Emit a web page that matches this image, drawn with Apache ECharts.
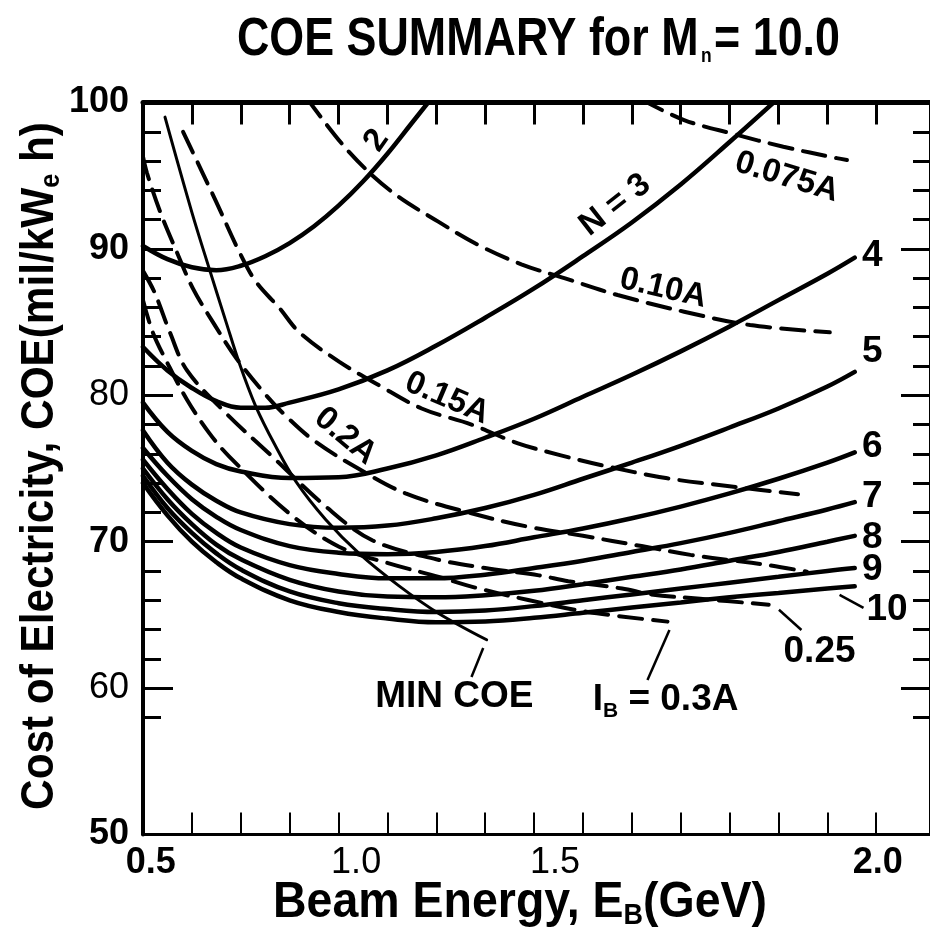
<!DOCTYPE html>
<html>
<head>
<meta charset="utf-8">
<title>COE summary</title>
<script src="https://cdn.jsdelivr.net/npm/echarts@6/dist/echarts.min.js"></script>
<style>
html, body { margin: 0; padding: 0; background: #fff; }
#chart { width: 930px; height: 945px; }
</style>
</head>
<body>
<div id="chart"></div>
<script>
// Cost of electricity (mil/kWe h) against beam energy (GeV), M_n = 10.0

// Solid curves: number of accelerator stages N
const coeN2 = [[0.5,90.2],[0.55,89.3],[0.6,88.75],[0.65,88.55],[0.7,88.85],[0.75,89.5],[0.8,90.4],[0.85,91.55],[0.9,92.95],[0.95,94.6],[1.0,96.5],[1.05,98.6],[1.1,100.7]];
const coeN3 = [[0.5,83.3],[0.55,81.7],[0.6,80.5],[0.65,79.6],[0.7,79.15],[0.75,79.15],[0.8,79.5],[0.9,80.4],[1.0,81.7],[1.1,83.4],[1.2,85.3],[1.3,87.3],[1.4,89.5],[1.5,91.8],[1.6,94.4],[1.7,97.3],[1.8,100.3]];
const coeN4 = [[0.5,79.5],[0.55,77.5],[0.6,76.2],[0.65,75.3],[0.7,74.8],[0.8,74.35],[0.9,74.4],[1.0,75.0],[1.1,75.9],[1.2,77.1],[1.3,78.4],[1.4,79.9],[1.5,81.4],[1.6,83.0],[1.7,84.7],[1.8,86.5],[1.9,88.3],[1.956,89.4]];
const coeN5 = [[0.5,77.6],[0.55,75.4],[0.6,73.9],[0.65,72.8],[0.7,72.0],[0.8,71.2],[0.9,70.95],[1.0,71.1],[1.1,71.6],[1.2,72.3],[1.3,73.2],[1.4,74.3],[1.5,75.4],[1.6,76.55],[1.7,77.8],[1.8,79.1],[1.9,80.6],[1.956,81.6]];
const coeN6 = [[0.5,76.4],[0.55,74.5],[0.6,72.9],[0.65,71.7],[0.7,70.8],[0.8,69.7],[0.9,69.25],[1.0,69.15],[1.1,69.3],[1.2,69.7],[1.3,70.3],[1.4,70.9],[1.5,71.6],[1.6,72.4],[1.7,73.3],[1.8,74.3],[1.9,75.4],[1.956,76.1]];
const coeN7 = [[0.5,75.6],[0.55,73.6],[0.6,71.9],[0.65,70.6],[0.7,69.6],[0.8,68.4],[0.9,67.8],[1.0,67.5],[1.1,67.5],[1.2,67.75],[1.3,68.2],[1.4,68.7],[1.5,69.3],[1.6,69.9],[1.7,70.6],[1.8,71.4],[1.9,72.2],[1.956,72.7]];
const coeN8 = [[0.5,75.0],[0.55,72.9],[0.6,71.2],[0.65,69.8],[0.7,68.8],[0.8,67.4],[0.9,66.6],[1.0,66.25],[1.1,66.2],[1.2,66.35],[1.3,66.65],[1.4,67.1],[1.5,67.6],[1.6,68.1],[1.7,68.7],[1.8,69.3],[1.9,70.0],[1.956,70.4]];
const coeN9 = [[0.5,74.5],[0.55,72.3],[0.6,70.6],[0.65,69.2],[0.7,68.1],[0.8,66.6],[0.9,65.8],[1.0,65.4],[1.1,65.2],[1.2,65.3],[1.3,65.6],[1.4,66.0],[1.5,66.4],[1.6,66.8],[1.7,67.2],[1.8,67.6],[1.9,68.0],[1.956,68.2]];
const coeN10 = [[0.5,74.0],[0.55,71.8],[0.6,70.0],[0.65,68.6],[0.7,67.5],[0.8,66.0],[0.9,65.2],[1.0,64.75],[1.1,64.5],[1.2,64.55],[1.3,64.8],[1.4,65.15],[1.5,65.5],[1.6,65.85],[1.7,66.2],[1.8,66.5],[1.9,66.8],[1.956,66.95]];

// Locus of the minimum COE
const minCoe = [[0.545,99.0],[0.6,92.5],[0.636,88.6],[0.67,85.0],[0.697,82.2],[0.73,79.3],[0.77,76.6],[0.813,74.1],[0.874,71.5],[0.942,69.2],[1.023,67.0],[1.105,65.1],[1.203,63.3]];

// Dashed curves: constant beam current I_B
const ib075 = [[1.52,100.2],[1.607,98.8],[1.708,97.85],[1.81,96.98],[1.919,96.2],[1.94,96.07]];
const ib10 = [[0.835,100.3],[0.921,96.64],[1.009,93.9],[1.104,91.86],[1.186,90.27],[1.274,88.95],[1.362,88.0],[1.471,86.85],[1.607,85.71],[1.742,84.8],[1.905,84.3]];
const ib15 = [[0.582,98.0],[0.65,93.2],[0.697,89.8],[0.731,87.76],[0.779,85.96],[0.82,84.3],[0.901,82.3],[0.982,80.7],[1.07,79.1],[1.172,78.0],[1.267,76.72],[1.355,75.9],[1.436,75.24],[1.573,74.33],[1.708,73.76],[1.84,73.24]];
const ib20 = [[0.5,96.3],[0.508,95.2],[0.535,92.54],[0.569,89.8],[0.602,87.3],[0.643,85.0],[0.691,82.53],[0.752,80.0],[0.792,78.6],[0.85,76.9],[0.935,75.1],[1.037,73.3],[1.172,71.94],[1.288,71.02],[1.4,70.4],[1.52,69.7],[1.62,69.1],[1.71,68.7],[1.78,68.4],[1.858,67.95]];
const ib25 = [[0.5,88.5],[0.524,87.0],[0.555,84.3],[0.59,81.7],[0.67,78.77],[0.765,75.8],[0.874,72.4],[0.969,70.1],[1.1,68.8],[1.2,68.2],[1.31,67.7],[1.37,67.3],[1.48,66.8],[1.54,66.4],[1.64,66.1],[1.78,65.7]];
const ib30 = [[0.5,86.5],[0.52,84.3],[0.55,82.2],[0.59,79.7],[0.636,77.4],[0.677,75.8],[0.799,71.94],[0.901,69.66],[1.003,68.52],[1.105,67.6],[1.172,66.93],[1.288,66.02],[1.41,65.2],[1.573,64.54]];

// Axis ticks and tick labels
const xTickValues = [0.6,0.7,0.8,0.9,1.0,1.1,1.2,1.3,1.4,1.5,1.6,1.7,1.8,1.9,2.0];
const xTickLabels = ['0.5','1.0','1.5','2.0'];
const xTickLabelAt = [0.516,0.936,1.343,2.003];
const yTickLabels = ['50','60','70','80','90','100'];
const yMajorTicks = [60,70,80,90];
const yMinorTicks = [58,62,64,66,68,72,74,76,78,82,84,86,88,92,94,96,98];

// Curve annotations and their leader lines
const curveNotes = [
  { text: '2', at: [0.978,97.4], rotate: 55, style: 'lab' },
  { text: 'N = 3', at: [1.466,93.0], rotate: 38, style: 'lab' },
  { text: '0.075A', at: [1.817,94.9], rotate: -17, style: 'lab' },
  { text: '0.10A', at: [1.564,87.3], rotate: -13, style: 'lab' },
  { text: '0.15A', at: [1.122,79.8], rotate: -23, style: 'lab' },
  { text: '0.2A', at: [0.914,77.2], rotate: -40, style: 'lab' },
  { text: '4', at: [1.992,89.5], rotate: 0, style: 'num' },
  { text: '5', at: [1.992,82.96], rotate: 0, style: 'num' },
  { text: '6', at: [1.992,76.5], rotate: 0, style: 'num' },
  { text: '7', at: [1.992,73.1], rotate: 0, style: 'num' },
  { text: '8', at: [1.992,70.25], rotate: 0, style: 'num' },
  { text: '9', at: [1.992,68.07], rotate: 0, style: 'num' },
  { text: '10', at: [2.022,65.35], rotate: 0, style: 'num' },
  { text: '0.25', at: [1.884,62.47], rotate: 0, style: 'num' },
  { text: 'MIN COE', at: [1.137,59.4], rotate: 0, style: 'num' },
  { text: '{t|I}{s|B}{t| = 0.3A}', at: [1.569,59.2], rotate: 0, style: 'num' }
];
const leaderLines = [
  [[1.925,66.37],[1.974,65.48]],
  [[1.801,65.35],[1.847,63.97]],
  [[1.196,62.74],[1.172,60.76]],
  [[1.577,63.97],[1.532,60.55]]
];

const SANS = "'Liberation Sans', Arial, sans-serif";
const INK = '#000';

const solidCurves = [coeN2, coeN3, coeN4, coeN5, coeN6, coeN7, coeN8, coeN9, coeN10];
const dashedCurves = [ib075, ib10, ib15, ib20, ib25, ib30];

const series = [];
solidCurves.forEach(function (pts, i) {
  series.push({
    name: 'N = ' + (i + 2),
    type: 'line',
    data: pts,
    smooth: 0.4,
    symbol: 'none',
    silent: true,
    lineStyle: { color: INK, width: 4.5, cap: 'round' }
  });
});
series.push({
  name: 'MIN COE',
  type: 'line',
  data: minCoe,
  smooth: 0.35,
  symbol: 'none',
  silent: true,
  lineStyle: { color: INK, width: 3, cap: 'round' }
});
dashedCurves.forEach(function (pts, i) {
  series.push({
    name: 'I_B ' + i,
    type: 'line',
    data: pts,
    smooth: 0.35,
    symbol: 'none',
    silent: true,
    lineStyle: { color: INK, width: 4, type: [23, 11], cap: 'round' }
  });
});
leaderLines.forEach(function (pts) {
  series.push({
    type: 'line',
    data: pts,
    symbol: 'none',
    silent: true,
    clip: false,
    lineStyle: { color: INK, width: 2.5 }
  });
});

const labelRich = {
  t: { fontFamily: SANS, fontWeight: 'bold', fontSize: 37, color: INK },
  s: { fontFamily: SANS, fontWeight: 'bold', fontSize: 21, color: INK, verticalAlign: 'bottom', padding: [22, 0, 0, 0] }
};
series.push({
  type: 'scatter',
  symbolSize: 0,
  silent: true,
  clip: false,
  itemStyle: { color: INK, opacity: 1 },
  data: curveNotes.map(function (n) {
    return {
      value: n.at,
      label: {
        show: true,
        position: [0, 0],
        align: 'center',
        verticalAlign: 'middle',
        rotate: n.rotate,
        formatter: n.text,
        fontFamily: SANS,
        fontWeight: 'bold',
        fontSize: n.style === 'lab' ? 33 : 37,
        color: INK,
        rich: labelRich
      }
    };
  })
});

const option = {
  backgroundColor: '#fff',
  animation: false,
  grid: { left: 143, top: 102.5, width: 791, height: 732, containLabel: false },
  xAxis: [
    {
      type: 'value', min: 0.5, max: 2.11, position: 'bottom',
      axisLine: { lineStyle: { color: INK, width: 3 } },
      axisTick: { inside: true, length: 22, customValues: xTickValues, lineStyle: { color: INK, width: 2 } },
      axisLabel: {
        customValues: xTickLabelAt,
        margin: 11,
        formatter: function (v) {
          let k = 0;
          xTickLabelAt.forEach(function (p, i) { if (Math.abs(p - v) < Math.abs(xTickLabelAt[k] - v)) k = i; });
          return (k === 0 || k === 3) ? '{b|' + xTickLabels[k] + '}' : '{r|' + xTickLabels[k] + '}';
        },
        rich: {
          b: { fontFamily: SANS, fontWeight: 'bold', fontSize: 36, color: INK },
          r: { fontFamily: SANS, fontWeight: 'normal', fontSize: 36, color: INK }
        }
      },
      splitLine: { show: false }
    },
    {
      type: 'value', min: 0.5, max: 2.11, position: 'top',
      axisLine: { lineStyle: { color: INK, width: 5 } },
      axisTick: { inside: true, length: 22, customValues: xTickValues, lineStyle: { color: INK, width: 3 } },
      axisLabel: { show: false },
      splitLine: { show: false }
    }
  ],
  yAxis: [
    {
      type: 'value', min: 50, max: 100, interval: 10, position: 'left',
      axisLine: { lineStyle: { color: INK, width: 4 } },
      axisTick: { inside: true, length: 30, customValues: yMajorTicks, lineStyle: { color: INK, width: 3 } },
      axisLabel: {
        margin: 14,
        formatter: function (v) {
          const s = String(v);
          return (s === '80' || s === '60') ? '{r|' + s + '}' : '{b|' + s + '}';
        },
        rich: {
          b: { fontFamily: SANS, fontWeight: 'bold', fontSize: 36, color: INK },
          r: { fontFamily: SANS, fontWeight: 'normal', fontSize: 36, color: INK }
        }
      },
      splitLine: { show: false }
    },
    {
      type: 'value', min: 50, max: 100, interval: 10, position: 'left',
      axisLine: { show: false },
      axisTick: { inside: true, length: 18, customValues: yMinorTicks, lineStyle: { color: INK, width: 3 } },
      axisLabel: { show: false },
      splitLine: { show: false }
    },
    {
      type: 'value', min: 50, max: 100, interval: 10, position: 'right',
      axisLine: { lineStyle: { color: INK, width: 3 } },
      axisTick: { inside: true, length: 29, customValues: yMajorTicks, lineStyle: { color: INK, width: 3 } },
      axisLabel: { show: false },
      splitLine: { show: false }
    },
    {
      type: 'value', min: 50, max: 100, interval: 10, position: 'right',
      axisLine: { show: false },
      axisTick: { inside: true, length: 17, customValues: yMinorTicks, lineStyle: { color: INK, width: 3 } },
      axisLabel: { show: false },
      splitLine: { show: false }
    }
  ],
  // Title and axis titles, set in a condensed bold face
  graphic: [
    {
      type: 'text', x: 237, y: 40, scaleX: 0.83, silent: true,
      style: {
        text: '{a|COE SUMMARY for M}{s|n}{a|= 10.0}',
        align: 'left', verticalAlign: 'middle',
        rich: {
          a: { fontFamily: SANS, fontWeight: 'bold', fontSize: 54, fill: INK },
          s: { fontFamily: SANS, fontWeight: 'bold', fontSize: 21, fill: INK, verticalAlign: 'bottom', padding: [31, 3, 0, 3] }
        }
      }
    },
    {
      type: 'text', x: 40, y: 466, rotation: Math.PI / 2, scaleX: 0.9, silent: true,
      style: {
        text: '{t|Cost of Electricity, COE(mil/kW}{s|e}{t| h)}',
        align: 'center', verticalAlign: 'middle',
        rich: {
          t: { fontFamily: SANS, fontWeight: 'bold', fontSize: 47, fill: INK },
          s: { fontFamily: SANS, fontWeight: 'bold', fontSize: 28, fill: INK, verticalAlign: 'bottom', padding: [22, 0, 0, 0] }
        }
      }
    },
    {
      type: 'text', x: 520, y: 903, scaleX: 0.93, silent: true,
      style: {
        text: '{t|Beam Energy, E}{s|B}{t|(GeV)}',
        align: 'center', verticalAlign: 'middle',
        rich: {
          t: { fontFamily: SANS, fontWeight: 'bold', fontSize: 50, fill: INK },
          s: { fontFamily: SANS, fontWeight: 'bold', fontSize: 29, fill: INK, verticalAlign: 'bottom', padding: [26, 0, 0, 0] }
        }
      }
    }
  ],
  series: series
};

const chart = echarts.init(document.getElementById('chart'));
chart.setOption(option);
</script>
</body>
</html>
